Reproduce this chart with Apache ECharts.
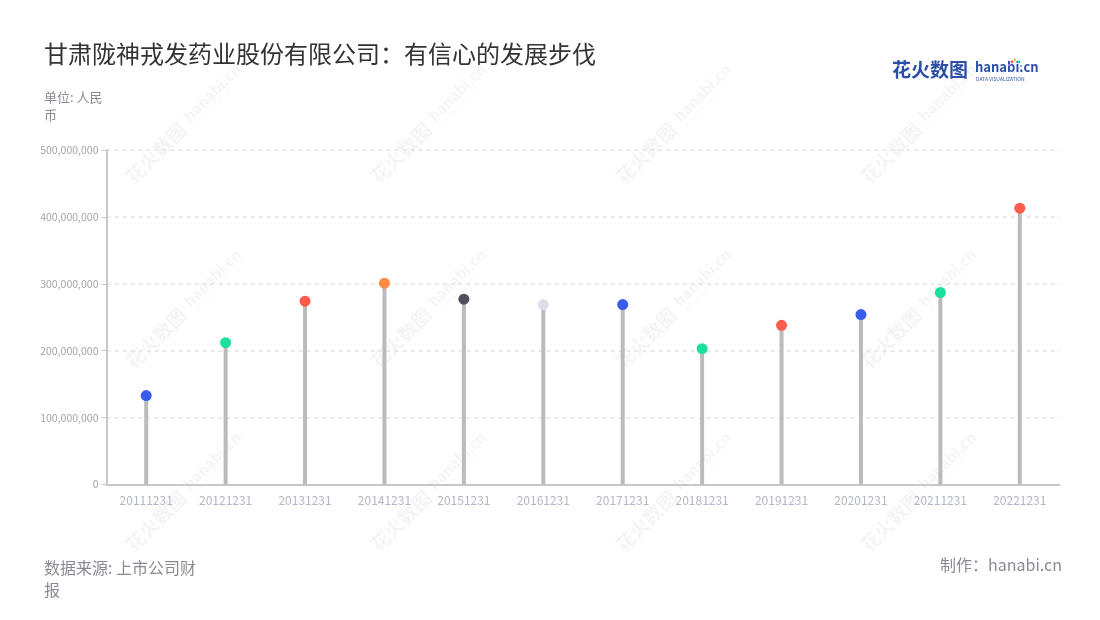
<!DOCTYPE html>
<html>
<head>
<meta charset="utf-8">
<script src="https://cdn.jsdelivr.net/npm/echarts@6/dist/echarts.min.js"></script>
<style>
html,body{margin:0;padding:0;background:#fff;}
#main{width:1100px;height:620px;}
</style>
</head>
<body>
<div id="main"></div>
<script>
// ---- data ----
var categories = ['20111231','20121231','20131231','20141231','20151231','20161231','20171231','20181231','20191231','20201231','20211231','20221231'];
var values = [133000000, 212000000, 274000000, 301000000, 277000000, 269000000, 269000000, 203000000, 238000000, 254000000, 287000000, 413000000];
var dotColors = ['#3B5BEB','#1AE09F','#FF5B4F','#FF8C45','#50505D','#DDE0EA','#3B5BEB','#1AE09F','#FF5B4F','#3B5BEB','#1AE09F','#FF5B4F'];
var yTicks = [0, 100000000, 200000000, 300000000, 400000000, 500000000];

var FONT = '"Noto Sans CJK SC","Noto Sans",sans-serif';

function fmt(v){ return String(v).replace(/\B(?=(\d{3})+(?!\d))/g, ','); }

var chart = echarts.init(document.getElementById('main'));

// watermark tiles
var wm = [];
var wmCols = [187, 432, 677, 922];
var wmRows = [122, 307, 490];
wmRows.forEach(function(cy){
  wmCols.forEach(function(cx){
    wm.push({
      type: 'group', x: cx, y: cy, rotation: Math.PI/4, silent: true, z: 0,
      children: [
        {type:'text', x:-82, y:0, style:{text:'花火数图', fill:'rgba(0,0,0,0.045)', font:'bold 19px ' + FONT, textVerticalAlign:'middle'}},
        {type:'text', x:2, y:-3, style:{text:'hanabi.cn', fill:'rgba(0,0,0,0.045)', font:'bold 15px ' + FONT, textVerticalAlign:'middle'}},
        {type:'text', x:3, y:8, style:{text:'DATA VISUALIZATION', fill:'rgba(0,0,0,0.04)', font:'5px ' + FONT, textVerticalAlign:'middle'}}
      ]
    });
  });
});

var option = {
  backgroundColor: '#fff',
  animation: false,
  title: {
    text: '甘肃陇神戎发药业股份有限公司：有信心的发展步伐',
    left: 39, top: 37,
    textStyle: {fontFamily: FONT, fontSize: 24, fontWeight: 'normal', color: '#333'}
  },
  graphic: wm.concat([
    {type:'text', left:44, top:88, style:{text:'单位: 人民\n币', fill:'#8a8a94', font:'13px ' + FONT, lineHeight:18}},
    {type:'text', left:44, top:557, style:{text:'数据来源: 上市公司财\n报', fill:'#8a8a94', font:'16px ' + FONT, lineHeight:22}},
    {type:'text', right:38, top:557, style:{text:'制作：hanabi.cn', fill:'#8a8a98', font:'16px ' + FONT}},
    {type:'text', left:892, top:60, style:{text:'花火数图', fill:'#2B4FA8', font:'bold 19px ' + FONT}},
    {type:'text', left:975, top:61, style:{text:'hanabi.cn', fill:'#2B4FA8', font:'bold 13px ' + FONT}},
    {type:'text', left:976, top:77, style:{text:'DATA VISUALIZATION', fill:'#2B4FA8', font:'5px ' + FONT}},
    {type:'circle', shape:{cx:1012, cy:62, r:1.4}, style:{fill:'#FF5B4F'}},
    {type:'circle', shape:{cx:1015, cy:60, r:1.4}, style:{fill:'#FFC53D'}},
    {type:'circle', shape:{cx:1019, cy:62, r:1.4}, style:{fill:'#1AE09F'}},
    {type:'circle', shape:{cx:1009, cy:65, r:1.1}, style:{fill:'#B57BFF'}},
    {type:'circle', shape:{cx:1021, cy:66, r:1.1}, style:{fill:'#3BA7FF'}}
  ]),
  grid: {left: 106.5, right: 40.5, top: 150, bottom: 135.5, containLabel: false},
  xAxis: {
    type: 'category',
    data: categories,
    axisLine: {lineStyle: {color: '#c8c8c8', width: 2}},
    axisTick: {alignWithLabel: true, length: 5, lineStyle: {color: '#c8c8c8', width: 1}},
    axisLabel: {color: '#b3b6c4', fontSize: 12, fontFamily: FONT, margin: 10, interval: 0}
  },
  yAxis: {
    type: 'value',
    min: yTicks[0], max: yTicks[yTicks.length-1], interval: yTicks[1]-yTicks[0],
    axisLine: {show: true, lineStyle: {color: '#c8c8c8', width: 2}},
    axisTick: {show: true, length: 5, lineStyle: {color: '#c8c8c8'}},
    axisLabel: {color: '#a4a4ac', fontSize: 10.5, fontFamily: FONT, margin: 8, formatter: fmt},
    splitLine: {show: true, lineStyle: {color: '#e4e4e4', type: [4, 4], width: 1.5}}
  },
  series: [
    {
      type: 'bar', data: values, barWidth: 4, z: 2,
      itemStyle: {color: '#bbbbbb'}
    },
    {
      type: 'scatter', data: values.map(function(v, i){ return {value: v, itemStyle: {color: dotColors[i], opacity: 1}}; }),
      symbolSize: 11, z: 3
    }
  ]
};
chart.setOption(option);
</script>
</body>
</html>
